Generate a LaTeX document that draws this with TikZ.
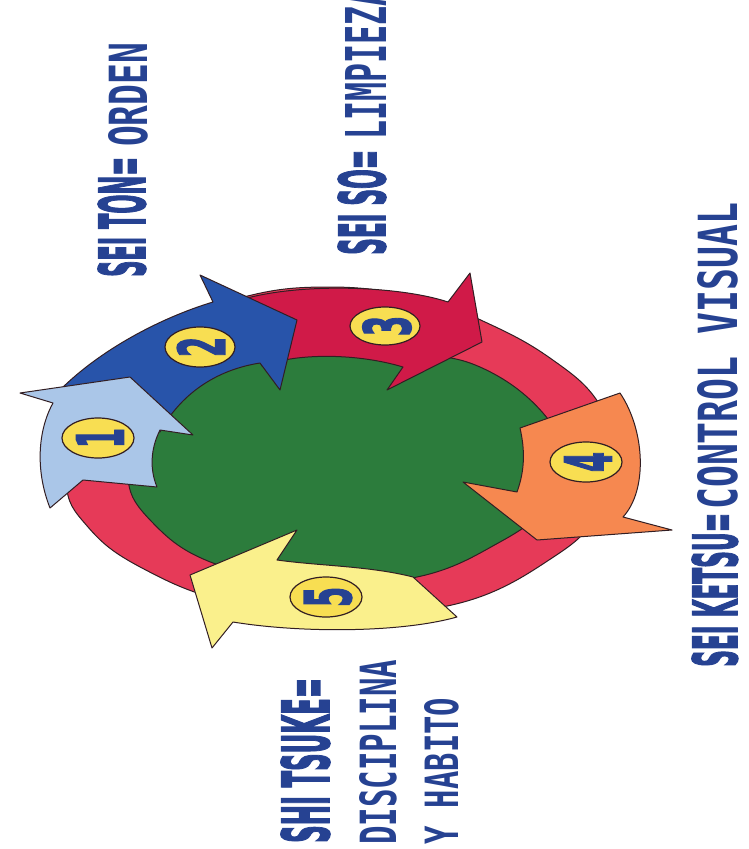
\documentclass[tikz,border=0pt]{standalone}
\usepackage{fontspec}
\usepackage{graphicx}
\newfontfamily\heavyf{DejaVu Sans}[FakeBold=3]
\newfontfamily\monof{DejaVu Sans Mono}
\definecolor{txtblue}{RGB}{38,66,146}
\definecolor{ringred}{RGB}{230,58,88}
\definecolor{ingreen}{RGB}{44,124,60}
\definecolor{arrowone}{RGB}{170,198,232}
\definecolor{arrowtwo}{RGB}{40,84,170}
\definecolor{arrowthree}{RGB}{208,26,72}
\definecolor{arrowfour}{RGB}{246,136,80}
\definecolor{arrowfive}{RGB}{250,240,140}
\definecolor{badgefill}{RGB}{248,222,82}
\definecolor{outl}{RGB}{50,30,35}
\newcommand{\heavytxt}[3]{\resizebox{#1pt}{#2pt}{\heavyf\bfseries #3}}
\newcommand{\monotxt}[3]{\resizebox{#1pt}{#2pt}{\monof\bfseries #3}}
\newcommand{\digit}[1]{\scalebox{0.45}[1]{\fontsize{64}{64}\heavyf\bfseries #1}}
\begin{document}
\begin{tikzpicture}[x=1pt,y=-1pt,
  shapeline/.style={draw=outl, line width=1pt, line join=round},
  lbl/.style={rotate=90, anchor=base west, inner sep=0pt, text=txtblue},
  badge/.style={shapeline, fill=badgefill, line width=1.2pt},
  num/.style={rotate=90, inner sep=0pt, text=txtblue}]
\useasboundingbox (0,0) rectangle (748,849);
\clip (0,0) rectangle (748,849);
% ring
\draw[shapeline, fill=ringred] plot[smooth cycle, tension=0.7] coordinates {
 (66,480) (82,405) (150,335) (240,298) (330,287) (420,298) (485,322)
 (550,358) (598,402) (614,455) (598,512) (555,556) (460,603) (340,612)
 (230,602) (142,568) (88,527)};
% inner green
\draw[shapeline, fill=ingreen] plot[smooth cycle, tension=0.7] coordinates {
 (128,475) (150,420) (200,382) (265,360) (330,352) (410,354) (480,367)
 (543,413) (565,465) (548,505) (500,542) (417,577) (310,582) (213,563) (152,522)};
% arrow 3
\draw[shapeline, fill=arrowthree] (240,300) .. controls (300,282) and (400,286) .. (448,302)
  -- (470,273) -- (482,342) -- (387,390) -- (403,367)
  .. controls (360,354) and (300,352) .. (262,366) -- cycle;
% arrow 2
\draw[shapeline, fill=arrowtwo] (60,390) .. controls (100,350) and (160,318) .. (213,302)
  -- (200,275) -- (297,320) -- (280,390) -- (260,363)
  .. controls (215,370) and (180,395) .. (160,432) -- cycle;
% arrow 1
\draw[shapeline, fill=arrowone] (20,393) -- (130,377) -- (193,435) -- (160,430)
  .. controls (150,450) and (150,470) .. (157,487) -- (83,480) -- (50,508)
  .. controls (35,470) and (38,430) .. (53,403) -- cycle;
% arrow 4
\draw[shapeline, fill=arrowfour] (520,428) -- (620,393)
  .. controls (645,430) and (648,490) .. (623,517) -- (672,530) -- (537,540)
  -- (463,482) -- (517,492) .. controls (525,470) and (525,450) .. (520,428) -- cycle;
% arrow 5
\draw[shapeline, fill=arrowfive] (297,530) -- (277,560)
  .. controls (320,566) and (370,566) .. (413,577) -- (457,617)
  .. controls (400,633) and (300,633) .. (233,622) -- (212,648) -- (190,575) -- cycle;
% badges
\draw[badge] (98,438) ellipse [x radius=36pt, y radius=20pt];
\draw[badge] (200,347) ellipse [x radius=35pt, y radius=20pt];
\draw[badge] (385,326) ellipse [x radius=35pt, y radius=19pt];
\draw[badge] (586,462) ellipse [x radius=36pt, y radius=20pt];
\draw[badge] (326,597) ellipse [x radius=36pt, y radius=20pt];
\node[num] (n1) at (100,438) {\digit{1}};
\node[num] (n2) at (201,347) {\digit{2}};
\node[num] (n3) at (387,326) {\digit{3}};
\node[num] (n4) at (588,462) {\digit{4}};
\node[num] (n5) at (328,597) {\digit{5}};
% labels
\node[lbl] (t1a) at (145,277) {\heavytxt{120}{47}{SEI TON=}};
\node[lbl] (t1b) at (147,147) {\monotxt{104}{39}{ORDEN}};
\node[lbl] (t2a) at (385,255) {\heavytxt{105}{47}{SEI SO=}};
\node[lbl] (t2b) at (386,140) {\monotxt{152}{41}{LIMPIEZA}};
\node[lbl] (t3a) at (737,667) {\heavytxt{154}{45}{SEI KETSU=}};
\node[lbl] (t3b) at (737,510) {\monotxt{307}{40}{CONTROL VISUAL}};
\node[lbl] (t4a) at (329,843) {\heavytxt{165}{48}{SHI TSUKE=}};
\node[lbl] (t4b) at (396,845) {\monotxt{185}{37}{DISCIPLINA}};
\node[lbl] (t4c) at (458,845) {\monotxt{147}{34}{Y HABITO}};
\end{tikzpicture}
\end{document}
